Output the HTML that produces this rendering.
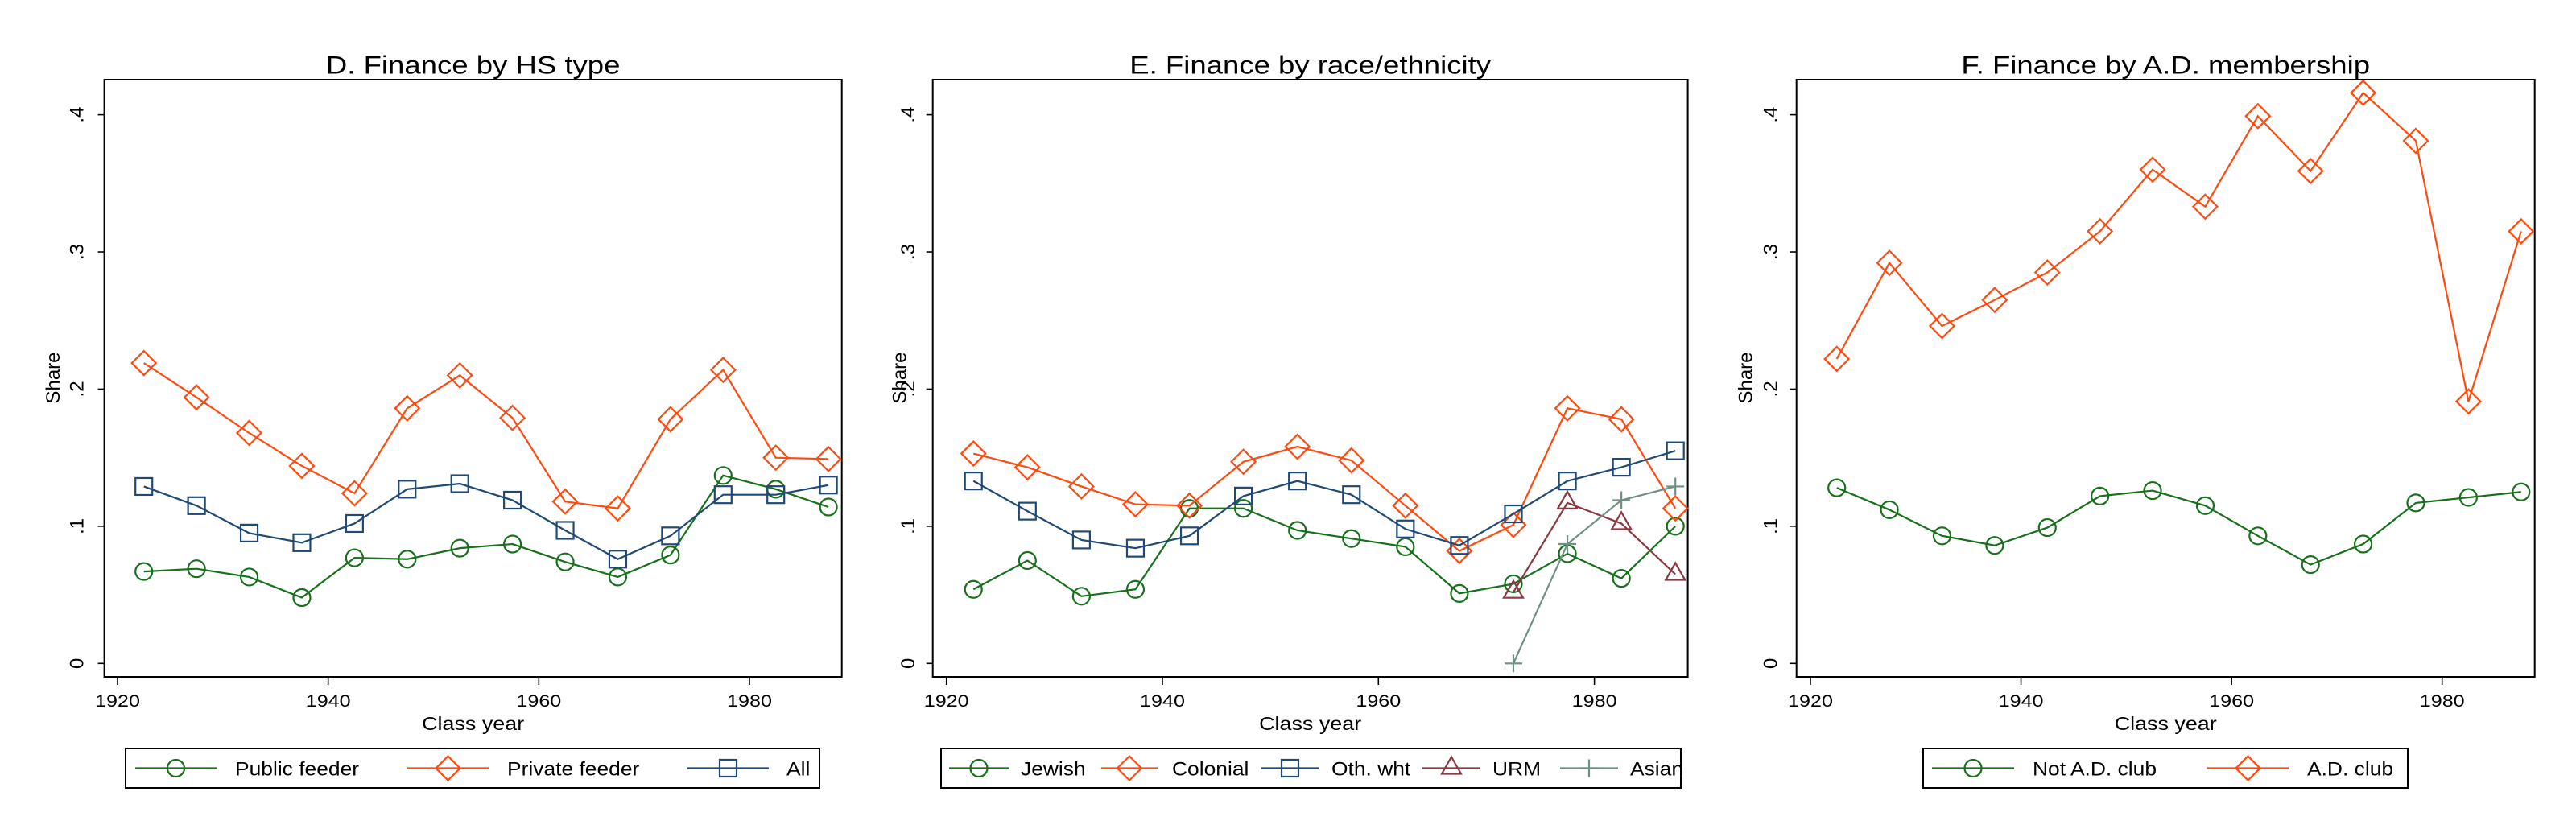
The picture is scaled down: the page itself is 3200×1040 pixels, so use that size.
<!DOCTYPE html>
<html><head><meta charset="utf-8"><style>
html,body{margin:0;padding:0;background:#fff;}
svg{display:block;font-family:"Liberation Sans",Arial,sans-serif;}
</style></head><body>
<svg id="chart" width="3200" height="1040" viewBox="0 0 3200 1040" xmlns="http://www.w3.org/2000/svg"></svg>
<script>
const years = [1922.5,1927.5,1932.5,1937.5,1942.5,1947.5,1952.5,1957.5,1962.5,1967.5,1972.5,1977.5,1982.5,1987.5];
const yTicks = [0,0.1,0.2,0.3,0.4];
const yTickLabels = ["0",".1",".2",".3",".4"];
const xTicks = [1920,1940,1960,1980];
// Panel D
const dPublic = [0.067,0.069,0.063,0.048,0.077,0.076,0.084,0.087,0.074,0.063,0.079,0.137,0.127,0.114];
const dPrivate = [0.219,0.194,0.168,0.144,0.124,0.186,0.210,0.179,0.118,0.113,0.178,0.214,0.150,0.149];
const dAll = [0.129,0.115,0.095,0.088,0.102,0.127,0.131,0.119,0.097,0.076,0.093,0.123,0.123,0.130];
// Panel E
const eJewish = [0.054,0.075,0.049,0.054,0.113,0.113,0.097,0.091,0.085,0.051,0.058,0.080,0.062,0.100];
const eColonial = [0.153,0.143,0.129,0.116,0.115,0.147,0.158,0.148,0.115,0.082,0.101,0.186,0.178,0.113];
const eOthWht = [0.133,0.111,0.090,0.084,0.093,0.122,0.133,0.123,0.098,0.086,0.109,0.133,0.143,0.155];
const eURM = [null,null,null,null,null,null,null,null,null,null,0.052,0.117,0.102,0.065];
const eAsian = [null,null,null,null,null,null,null,null,null,null,0.000,0.087,0.119,0.129];
// Panel F
const fNotAD = [0.128,0.112,0.093,0.086,0.099,0.122,0.126,0.115,0.093,0.072,0.087,0.117,0.121,0.125];
const fAD = [0.222,0.292,0.246,0.265,0.285,0.315,0.360,0.333,0.399,0.359,0.416,0.381,0.191,0.315];

const C = {green:"#17701a", orange:"#ff4a0f", navy:"#1f4a75", maroon:"#8c3840", teal:"#6f9184"};
const NS = "http://www.w3.org/2000/svg";
const svg = document.getElementById("chart");
function mk(tag, attrs, parent){const e=document.createElementNS(NS,tag);for(const k in attrs)e.setAttribute(k,attrs[k]);(parent||svg).appendChild(e);return e;}
function htext(parent, x, y, str, size, sx, anchor){
  const t = mk("text",{transform:`translate(${x} ${y}) scale(${sx} 1)`,"text-anchor":anchor,"font-size":size,fill:"#000"},parent);
  t.textContent = str;
  return t;
}

function marker(g, type, cx, cy, color){
  let e;
  if(type==="circle"){e=mk("circle",{cx:cx,cy:cy,r:10.5,fill:"none",stroke:color,"stroke-width":2.2},g);}
  else if(type==="diamond"){e=mk("polygon",{points:`${cx},${cy-15} ${cx+15},${cy} ${cx},${cy+15} ${cx-15},${cy}`,fill:"none",stroke:color,"stroke-width":2.2},g);}
  else if(type==="square"){e=mk("rect",{x:cx-10.5,y:cy-10.5,width:21,height:21,fill:"none",stroke:color,"stroke-width":2.2},g);}
  else if(type==="triangle"){e=mk("polygon",{points:`${cx},${cy-14} ${cx+12},${cy+7} ${cx-12},${cy+7}`,fill:"none",stroke:color,"stroke-width":2.2},g);}
  else {e=mk("path",{d:`M${cx-11},${cy}H${cx+11}M${cx},${cy-11}V${cy+11}`,fill:"none",stroke:color,"stroke-width":2.2},g);}
  return e;
}

const panels = [
 {id:"d", title:"D. Finance by HS type", box:[129.6,99,1045.7,841], x1920:146, x1980:931, tickLblX:95.5, shareX:66,
  series:[{name:"Public feeder",vals:dPublic,color:C.green,m:"circle"},{name:"Private feeder",vals:dPrivate,color:C.orange,m:"diamond"},{name:"All",vals:dAll,color:C.navy,m:"square"}],
  legend:{box:[156,930,1018,979], items:[[168,269,292],[506,607,630],[854,955,977]]}},
 {id:"e", title:"E. Finance by race/ethnicity", box:[1158.7,99,2096.6,841], x1920:1175.7, x1980:1980.6, tickLblX:1128, shareX:1117.7,
  series:[{name:"Jewish",vals:eJewish,color:C.green,m:"circle"},{name:"Colonial",vals:eColonial,color:C.orange,m:"diamond"},{name:"Oth. wht",vals:eOthWht,color:C.navy,m:"square"},{name:"URM",vals:eURM,color:C.maroon,m:"triangle"},{name:"Asian",vals:eAsian,color:C.teal,m:"plus"}],
  legend:{box:[1169,930,2088,979], items:[[1179,1253,1268],[1368,1438,1456],[1567,1638,1654],[1767,1839,1854],[1938,2010,2025]]}},
 {id:"f", title:"F. Finance by A.D. membership", box:[2231.7,99,3148.7,841], x1920:2249, x1980:3033.7, tickLblX:2199.5, shareX:2168.4,
  series:[{name:"Not A.D. club",vals:fNotAD,color:C.green,m:"circle"},{name:"A.D. club",vals:fAD,color:C.orange,m:"diamond"}],
  legend:{box:[2389,930,2991,979], items:[[2400,2502,2525],[2742,2843,2866]]}}
];

const Y0 = 824.3, Y4 = 142.6;
function yPix(v){return Y0 + (Y4-Y0)*v/0.4;}

panels.forEach(p=>{
  const g = mk("g",{});
  
  
  const xPix = yr => p.x1920 + (yr-1920)*(p.x1980-p.x1920)/60;
  const [l,t,r,b] = p.box;
  const cx = (l+r)/2;
  const title = htext(g, cx, 91.5, p.title, 31.5, 1.16, "middle");
  
  
  const frame = mk("rect",{x:l,y:t,width:r-l,height:b-t,fill:"none",stroke:"#000","stroke-width":2},g);
  
  
  yTicks.forEach((v,i)=>{
    const y = yPix(v);
    mk("line",{x1:l-8,x2:l,y1:y,y2:y,stroke:"#000","stroke-width":1.6},g);
    const tl = mk("text",{x:p.tickLblX,y:y,"text-anchor":"middle","font-size":24,transform:`rotate(-90 ${p.tickLblX} ${y})`,dy:8},g);
    tl.textContent = yTickLabels[i];
    
    
  });
  xTicks.forEach(v=>{
    const x = xPix(v);
    mk("line",{x1:x,x2:x,y1:b,y2:b+10,stroke:"#000","stroke-width":1.6},g);
    const tl = htext(g, x, 878, String(v), 21.5, 1.17, "middle");
    
    
  });
  const xt = htext(g, cx, 907, "Class year", 23, 1.17, "middle");
  
  
  const yt = mk("text",{x:p.shareX,y:469.5,"text-anchor":"middle","font-size":24,transform:`rotate(-90 ${p.shareX} 469.5)`,dy:8},g);
  yt.textContent = "Share";
  
  

  p.series.forEach(s=>{
    const sg = mk("g",{},g);
    
    
    const pts = [];
    s.vals.forEach((v,i)=>{ if(v!==null) pts.push([xPix(years[i]), yPix(v)]); });
    const line = mk("polyline",{points:pts.map(q=>q.join(",")).join(" "),fill:"none",stroke:s.color,"stroke-width":2.2},sg);
    
    
    pts.forEach(q=>{
      const m = marker(sg, s.m, q[0], q[1], s.color);
      
      
    });
  });

  const lg = mk("g",{},g);
  
  
  const [bl,bt,br,bb] = p.legend.box;
  mk("rect",{x:bl,y:bt,width:br-bl,height:bb-bt,fill:"none",stroke:"#000","stroke-width":2},lg);
  const ly = (bt+bb)/2;
  p.series.forEach((s,i)=>{
    const [a,c,tx] = p.legend.items[i];
    const eg = mk("g",{},lg);
    
    
    mk("line",{x1:a,x2:c,y1:ly,y2:ly,stroke:s.color,"stroke-width":2.2},eg);
    marker(eg, s.m, (a+c)/2, ly, s.color);
    htext(eg, tx, ly+9, s.name, 24, 1.1, "start");
  });
});
</script>
</body></html>
